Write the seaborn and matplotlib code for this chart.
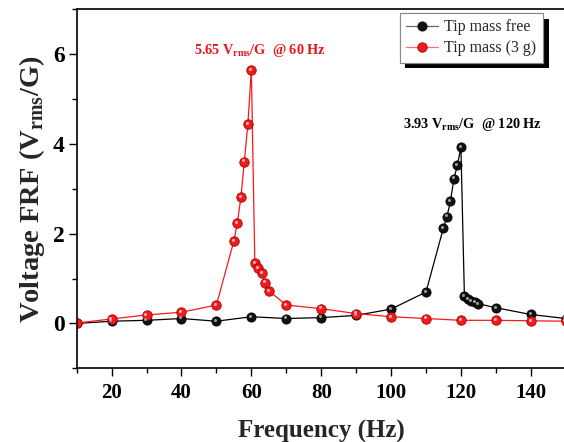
import matplotlib
matplotlib.use('Agg')

import numpy as np
import pandas as pd
import matplotlib.pyplot as plt
import matplotlib.patheffects as pe
from matplotlib.ticker import MultipleLocator
from matplotlib.transforms import offset_copy
import seaborn as sns

# data
freq_free = [10, 20, 30, 40, 50, 60, 70, 80, 90, 100, 110, 115, 116, 117, 118, 119, 120,
             121, 122, 123, 124, 125, 130, 140, 150]
frf_free = [0.0, 0.05, 0.07, 0.11, 0.05, 0.15, 0.11, 0.13, 0.18, 0.32, 0.70, 2.13, 2.38,
            2.72, 3.23, 3.53, 3.93, 0.61, 0.54, 0.50, 0.47, 0.44, 0.35, 0.20, 0.11]

freq_mass = [10, 20, 30, 40, 50, 55, 56, 57, 58, 59, 60, 61, 62, 63, 64, 65, 70, 80, 90,
             100, 110, 120, 130, 140, 150]
frf_mass = [0.01, 0.10, 0.19, 0.25, 0.41, 1.84, 2.24, 2.81, 3.61, 4.44, 5.65, 1.35, 1.24,
            1.12, 0.91, 0.73, 0.41, 0.33, 0.22, 0.15, 0.11, 0.07, 0.07, 0.06, 0.05]

labels = ['Tip mass free', 'Tip mass (3 g)']

df_free = pd.DataFrame({'freq': freq_free, 'frf': frf_free})
df_mass = pd.DataFrame({'freq': freq_mass, 'frf': frf_mass})

sns.set_style('ticks')
plt.rcParams['font.family'] = ['Liberation Serif', 'DejaVu Serif']
plt.rcParams['mathtext.fontset'] = 'custom'
plt.rcParams['mathtext.rm'] = 'Liberation Serif'
plt.rcParams['mathtext.bf'] = 'Liberation Serif:bold'

fig = plt.figure(figsize=(5.64, 4.42), dpi=100)
ax = fig.add_axes([0.136, 0.1667, 0.867, 0.812])

sns.lineplot(data=df_free, x='freq', y='frf', ax=ax, sort=False, estimator=None,
             color='black', lw=0.9, marker='o', ms=6.6, mfc='#111111', mec='black',
             mew=0.6, label=labels[0])
sns.lineplot(data=df_mass, x='freq', y='frf', ax=ax, sort=False, estimator=None,
             color='#f51a1a', lw=0.9, marker='o', ms=6.8, mfc='#ee1c1c', mec='#b00000',
             mew=0.6, label=labels[1])

# small highlights so the balls look shaded
hl = offset_copy(ax.transData, fig=fig, x=-1.2, y=1.2, units='dots')
ax.plot(freq_free, frf_free, ls='none', marker='o', ms=2.2, mfc='#9a9a9a', mec='none',
        transform=hl)
ax.plot(freq_mass, frf_mass, ls='none', marker='o', ms=2.2, mfc='#ffb0b0', mec='none',
        transform=hl)

ax.set_xlim(10, 150)
ax.set_ylim(-1, 7)
ax.xaxis.set_major_locator(MultipleLocator(20))
ax.xaxis.set_minor_locator(MultipleLocator(10))
ax.yaxis.set_major_locator(MultipleLocator(2))
ax.yaxis.set_minor_locator(MultipleLocator(1))
ax.tick_params(which='major', direction='out', width=1.0, length=5.5, colors='black')
ax.tick_params(which='minor', direction='out', width=1.0, length=3.3, colors='black')
ax.tick_params(axis='x', labelsize=15, pad=5)
ax.tick_params(axis='y', labelsize=17, pad=3)
for lab in ax.get_xticklabels() + ax.get_yticklabels():
    lab.set_fontweight('bold')

for side in ['left', 'bottom', 'top']:
    ax.spines[side].set_visible(True)
    ax.spines[side].set_linewidth(1.2)
    ax.spines[side].set_color('black')
ax.spines['right'].set_visible(False)

ax.set_xlabel('Frequency (Hz)', fontsize=18, fontweight='bold', labelpad=12)
ax.set_ylabel(r'Voltage FRF (V$_{\mathbf{rms}}$/G)', fontsize=20.5, fontweight='bold',
              labelpad=4)

ax.text(62.4, 6.0, r'5.65 V$_{\mathbf{rms}}$/G  @ 60 Hz', color='#e8141c', fontsize=10.3,
        fontweight='bold', ha='center', va='baseline')
ax.text(123.3, 4.36, r'3.93 V$_{\mathbf{rms}}$/G  @ 120 Hz', color='black', fontsize=10.3,
        fontweight='bold', ha='center', va='baseline')

leg = ax.legend(loc='upper right', bbox_to_anchor=(543 / 564, 1 - 13 / 442),
                bbox_transform=fig.transFigure, fontsize=11.5, frameon=True,
                fancybox=False, borderpad=0.4, handlelength=2.0, handletextpad=0.4,
                labelspacing=0.3, borderaxespad=0)
# legend lines look lighter than the data lines
for line, c in zip(leg.get_lines(), ['#666666', '#ff7070']):
    line.set_color(c)
frame = leg.get_frame()
frame.set_edgecolor('#888888')
frame.set_linewidth(0.8)
frame.set_alpha(1)
frame.set_path_effects([pe.withSimplePatchShadow(offset=(4, -4), shadow_rgbFace='black',
                                                 alpha=1), pe.Normal()])

fig.savefig('out.png', dpi=100)
